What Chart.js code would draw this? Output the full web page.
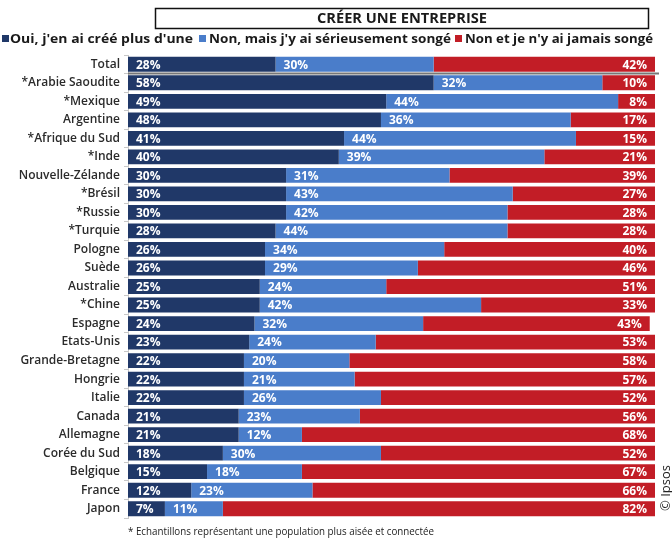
<!DOCTYPE html>
<html>
<head>
<meta charset="utf-8">
<script src="https://cdn.jsdelivr.net/npm/chart.js@4/dist/chart.umd.min.js"></script>
<style>
    html, body { margin: 0; padding: 0; background: #fff; }
    #wrap { width: 672px; height: 541px; }
</style>
</head>
<body>
<div id="wrap"><canvas id="canvas1" width="672" height="541"></canvas></div>
<script>
const countries = [
    'Total', '*Arabie Saoudite', '*Mexique', 'Argentine', '*Afrique du Sud', '*Inde',
    'Nouvelle-Zélande', '*Brésil', '*Russie', '*Turquie', 'Pologne', 'Suède',
    'Australie', '*Chine', 'Espagne', 'Etats-Unis', 'Grande-Bretagne', 'Hongrie',
    'Italie', 'Canada', 'Allemagne', 'Corée du Sud', 'Belgique', 'France', 'Japon'
];
const ouiPlusieurs = [28, 58, 49, 48, 41, 40, 30, 30, 30, 28, 26, 26, 25, 25, 24, 23, 22, 22, 22, 21, 21, 18, 15, 12, 7];
const nonSonge = [30, 32, 44, 36, 44, 39, 31, 43, 42, 44, 34, 29, 24, 42, 32, 24, 20, 21, 26, 23, 12, 30, 18, 23, 11];
const nonJamais = [42, 10, 8, 17, 15, 21, 39, 27, 28, 28, 40, 46, 51, 33, 43, 53, 58, 57, 52, 56, 68, 52, 67, 66, 82];

const seriesNames = ["Oui, j'en ai créé plus d'une", "Non, mais j'y ai sérieusement songé", "Non et je n'y ai jamais songé"];
const seriesColors = ['#203868', '#4a7dca', '#c21d26'];

document.addEventListener('DOMContentLoaded', function () {

    const fontFam = '"Open Sans", "DejaVu Sans", sans-serif';

    // draws text squeezed/stretched to a given width, starting at x
    function fitText(ctx, txt, x, y, w) {
        let m = ctx.measureText(txt).width;
        ctx.save();
        ctx.translate(x, y);
        ctx.scale(w / m, 1);
        ctx.textAlign = 'left';
        ctx.fillText(txt, 0, 0);
        ctx.restore();
    }

    // value labels inside the bars
    const valueLabels = {
        id: 'valueLabels',
        afterDatasetsDraw(chart) {
            const ctx = chart.ctx;
            const area = chart.chartArea;
            ctx.save();
            ctx.font = 'bold 12px ' + fontFam;
            ctx.fillStyle = '#fff';
            ctx.textBaseline = 'middle';
            chart.data.datasets.forEach((ds, i) => {
                chart.getDatasetMeta(i).data.forEach((el, j) => {
                    let txt = ds.data[j] + '%';
                    if (i < 2) {
                        ctx.textAlign = 'left';
                        ctx.fillText(txt, el.base + 8, el.y + 1);
                    } else {
                        ctx.textAlign = 'right';
                        ctx.fillText(txt, Math.min(el.x, area.right) - 8, el.y + 1);
                    }
                });
            });
            ctx.restore();
        }
    };

    // title box, legend, separator, footnote
    const decorations = {
        id: 'decorations',
        afterDraw(chart) {
            const ctx = chart.ctx;
            const area = chart.chartArea;
            const yScale = chart.scales.y;
            ctx.save();

            // title box
            ctx.strokeStyle = '#111';
            ctx.lineWidth = 1.5;
            ctx.strokeRect(155.5, 8.5, 493, 20);
            ctx.fillStyle = '#1a1a1a';
            ctx.font = 'bold 14px ' + fontFam;
            ctx.textBaseline = 'middle';
            fitText(ctx, 'CRÉER UNE ENTREPRISE', 317, 19, 170);

            // legend
            const legBox = [2, 199, 455];
            const legTxt = [[10, 183], [209, 242], [465, 188]];
            ctx.font = 'bold 13px ' + fontFam;
            seriesNames.forEach((name, i) => {
                ctx.fillStyle = seriesColors[i];
                ctx.fillRect(legBox[i], 35, 7, 7);
                ctx.fillStyle = '#1a1a1a';
                fitText(ctx, name, legTxt[i][0], 39, legTxt[i][1]);
            });

            // separator under Total
            const ySep = (yScale.getPixelForValue(0) + yScale.getPixelForValue(1)) / 2;
            ctx.strokeStyle = '#777';
            ctx.lineWidth = 2;
            ctx.beginPath();
            ctx.moveTo(area.left, ySep);
            ctx.lineTo(area.right + 4, ySep);
            ctx.stroke();

            // footnote
            ctx.fillStyle = '#222';
            ctx.font = '11px ' + fontFam;
            fitText(ctx, '* Echantillons représentant une population plus aisée et connectée', 128, 532, 306);

            // copyright
            ctx.translate(666, 488);
            ctx.rotate(-Math.PI / 2);
            ctx.textAlign = 'center';
            ctx.font = '13px ' + fontFam;
            ctx.fillStyle = '#222';
            ctx.fillText('© Ipsos', 0, 0);
            ctx.restore();
        }
    };

    let data = {
        labels: countries,
        datasets: [
            { label: seriesNames[0], data: ouiPlusieurs, backgroundColor: seriesColors[0] },
            { label: seriesNames[1], data: nonSonge, backgroundColor: seriesColors[1] },
            { label: seriesNames[2], data: nonJamais, backgroundColor: seriesColors[2] }
        ]
    };

    let config = {
        type: 'bar',
        data: data,
        options: {
            indexAxis: 'y',
            responsive: false,
            animation: false,
            datasets: {
                bar: {
                    categoryPercentage: 1,
                    barPercentage: 0.8,
                    borderWidth: 0
                }
            },
            layout: {
                padding: { top: 55, right: 17, bottom: 23, left: 0 }
            },
            plugins: {
                legend: { display: false },
                title: { display: false },
                tooltip: { enabled: false }
            },
            scales: {
                x: {
                    stacked: true,
                    min: 0,
                    max: 100,
                    display: false
                },
                y: {
                    stacked: true,
                    afterFit: function (scale) { scale.width = 128; },
                    border: { display: true, color: '#c8c8c8', width: 1 },
                    grid: {
                        display: true,
                        drawOnChartArea: false,
                        offset: true,
                        tickLength: 4,
                        color: '#c8c8c8'
                    },
                    ticks: {
                        color: '#2b2b2b',
                        padding: 4,
                        font: { family: fontFam, size: 12, weight: '600' }
                    }
                }
            }
        },
        plugins: [valueLabels, decorations]
    };

    let myChart = new Chart(
        document.getElementById('canvas1'),
        config
    );
});
</script>
</body>
</html>
